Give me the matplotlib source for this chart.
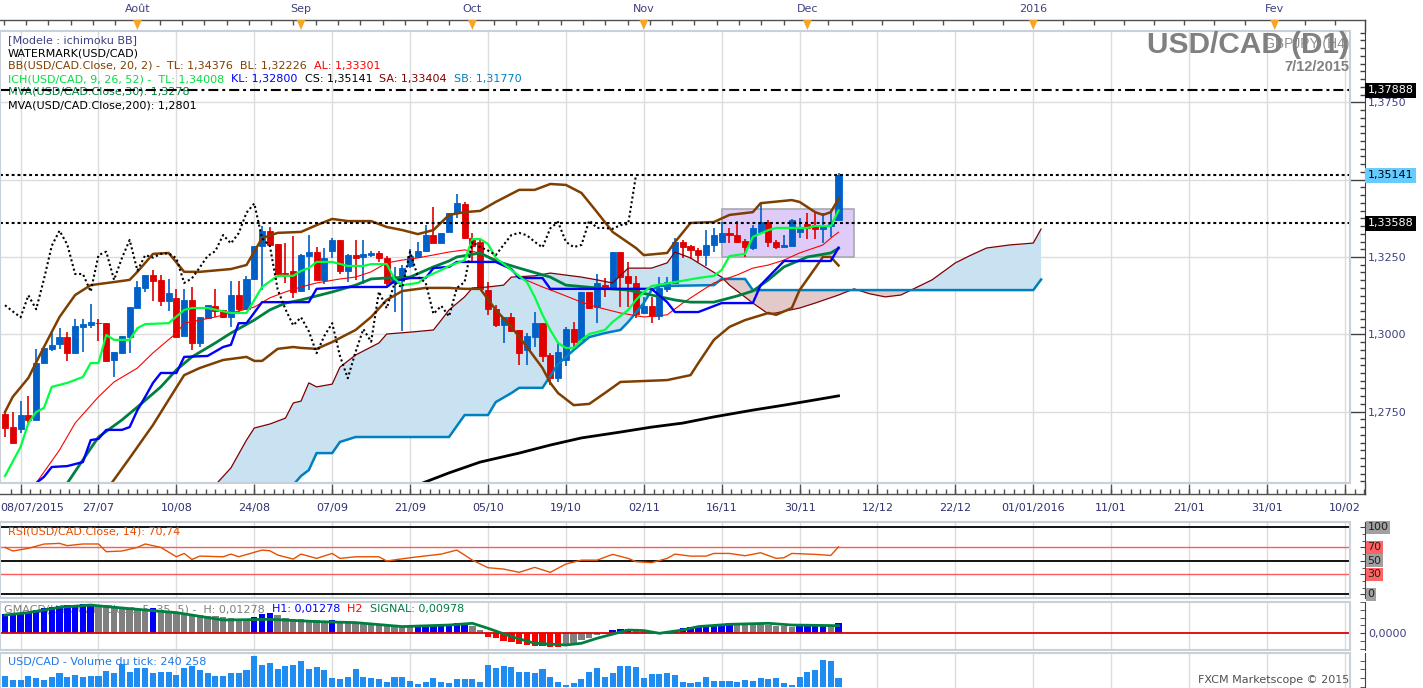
import numpy as np
import matplotlib
matplotlib.use("Agg")
import matplotlib.pyplot as plt
from matplotlib.patches import Rectangle, Polygon
from matplotlib.ticker import MultipleLocator
from matplotlib import transforms

# ---------------- data: USD/CAD daily, 9 Jul 2015 -> 7 Dec 2015 (bar 0..107) ----------------
opens = [1.2742, 1.2699, 1.2694, 1.2738, 1.2723, 1.2906, 1.2953, 1.2969, 1.2991, 1.2938,
         1.3025, 1.3031, 1.3038, 1.3038, 1.2917, 1.2940, 1.2992, 1.3085, 1.3150, 1.3193,
         1.3176, 1.3107, 1.3117, 1.2995, 1.3111, 1.2973, 1.3053, 1.3092, 1.3079, 1.3055,
         1.3126, 1.3081, 1.3178, 1.3286, 1.3333, 1.3292, 1.3199, 1.3205, 1.3140, 1.3253,
         1.3267, 1.3176, 1.3270, 1.3305, 1.3206, 1.3256, 1.3249, 1.3256, 1.3264, 1.3246,
         1.3165, 1.3182, 1.3221, 1.3250, 1.3269, 1.3321, 1.3295, 1.3332, 1.3392, 1.3421,
         1.3310, 1.3298, 1.3143, 1.3081, 1.3030, 1.3056, 1.3014, 1.2949, 1.2992, 1.3036,
         1.2933, 1.2859, 1.2917, 1.3017, 1.2982, 1.3138, 1.3089, 1.3159, 1.3150, 1.3267,
         1.3189, 1.3167, 1.3068, 1.3092, 1.3058, 1.3145, 1.3166, 1.3299, 1.3284, 1.3273,
         1.3255, 1.3289, 1.3299, 1.3328, 1.3321, 1.3302, 1.3279, 1.3332, 1.3363, 1.3300,
         1.3283, 1.3287, 1.3331, 1.3357, 1.3353, 1.3341, 1.3350, 1.3370]
highs = [1.2749, 1.2749, 1.2784, 1.2800, 1.2952, 1.2956, 1.3003, 1.3020, 1.3006, 1.3049,
         1.3049, 1.3098, 1.3050, 1.3038, 1.2943, 1.2995, 1.3087, 1.3173, 1.3193, 1.3208,
         1.3191, 1.3180, 1.3147, 1.3145, 1.3152, 1.3057, 1.3094, 1.3147, 1.3079, 1.3173,
         1.3173, 1.3189, 1.3286, 1.3350, 1.3346, 1.3292, 1.3294, 1.3319, 1.3260, 1.3321,
         1.3283, 1.3278, 1.3311, 1.3305, 1.3260, 1.3305, 1.3305, 1.3270, 1.3270, 1.3253,
         1.3218, 1.3224, 1.3276, 1.3299, 1.3353, 1.3413, 1.3327, 1.3393, 1.3454, 1.3428,
         1.3327, 1.3305, 1.3169, 1.3095, 1.3056, 1.3068, 1.3014, 1.3005, 1.3073, 1.3038,
         1.2940, 1.2976, 1.3024, 1.3041, 1.3138, 1.3138, 1.3195, 1.3181, 1.3267, 1.3267,
         1.3235, 1.3189, 1.3122, 1.3121, 1.3186, 1.3184, 1.3311, 1.3305, 1.3290, 1.3279,
         1.3337, 1.3345, 1.3364, 1.3343, 1.3366, 1.3307, 1.3353, 1.3425, 1.3371, 1.3305,
         1.3321, 1.3372, 1.3376, 1.3392, 1.3396, 1.3393, 1.3402, 1.3522]
lows = [1.2668, 1.2650, 1.2681, 1.2714, 1.2723, 1.2906, 1.2947, 1.2953, 1.2915, 1.2938,
        1.2943, 1.3019, 1.2979, 1.2910, 1.2861, 1.2940, 1.2940, 1.3085, 1.3137, 1.3109,
        1.3092, 1.3074, 1.2990, 1.2995, 1.2949, 1.2960, 1.3053, 1.3057, 1.3053, 1.3025,
        1.3072, 1.3081, 1.3176, 1.3143, 1.3290, 1.3184, 1.3167, 1.3116, 1.3137, 1.3143,
        1.3176, 1.3163, 1.3247, 1.3195, 1.3170, 1.3176, 1.3163, 1.3251, 1.3235, 1.3156,
        1.3073, 1.3012, 1.3214, 1.3247, 1.3266, 1.3294, 1.3295, 1.3332, 1.3376, 1.3308,
        1.3234, 1.3143, 1.3063, 1.3024, 1.2971, 1.3007, 1.2901, 1.2901, 1.2960, 1.2911,
        1.2836, 1.2847, 1.2898, 1.2960, 1.2982, 1.3082, 1.3038, 1.3122, 1.3150, 1.3089,
        1.3089, 1.3053, 1.3066, 1.3038, 1.3046, 1.3138, 1.3166, 1.3246, 1.3243, 1.3234,
        1.3221, 1.3267, 1.3298, 1.3294, 1.3295, 1.3249, 1.3273, 1.3331, 1.3282, 1.3276,
        1.3283, 1.3285, 1.3311, 1.3308, 1.3308, 1.3295, 1.3315, 1.3370]
closes = [1.2697, 1.2650, 1.2738, 1.2723, 1.2906, 1.2956, 1.2965, 1.2991, 1.2940, 1.3027,
          1.3033, 1.3040, 1.3036, 1.2915, 1.2943, 1.2995, 1.3087, 1.3152, 1.3193, 1.3173,
          1.3107, 1.3133, 1.2992, 1.3111, 1.2973, 1.3057, 1.3094, 1.3074, 1.3055, 1.3126,
          1.3081, 1.3178, 1.3286, 1.3335, 1.3290, 1.3195, 1.3195, 1.3138, 1.3256, 1.3267,
          1.3176, 1.3246, 1.3305, 1.3206, 1.3256, 1.3248, 1.3260, 1.3262, 1.3246, 1.3166,
          1.3181, 1.3216, 1.3253, 1.3269, 1.3321, 1.3294, 1.3327, 1.3393, 1.3423, 1.3310,
          1.3286, 1.3145, 1.3081, 1.3029, 1.3055, 1.3010, 1.2939, 1.2995, 1.3036, 1.2930,
          1.2858, 1.2943, 1.3017, 1.2976, 1.3138, 1.3084, 1.3165, 1.3152, 1.3267, 1.3186,
          1.3167, 1.3066, 1.3092, 1.3058, 1.3150, 1.3169, 1.3299, 1.3282, 1.3271, 1.3256,
          1.3289, 1.3321, 1.3328, 1.3320, 1.3299, 1.3281, 1.3343, 1.3363, 1.3299, 1.3282,
          1.3289, 1.3368, 1.3344, 1.3344, 1.3341, 1.3353, 1.3357, 1.35141]

volumes = [310000, 194000, 194000, 310000, 240000, 194000, 269000, 405000, 290000, 339000,
           290000, 310000, 310000, 463000, 405000, 657000, 434000, 530000, 530000, 405000,
           434000, 434000, 339000, 530000, 599000, 483000, 405000, 310000, 310000, 405000,
           385000, 483000, 889000, 628000, 675000, 501000, 599000, 628000, 753000, 501000,
           579000, 483000, 240000, 211000, 290000, 501000, 290000, 240000, 211000, 145000,
           290000, 290000, 174000, 78000, 145000, 240000, 145000, 96000, 232000, 232000,
           232000, 145000, 628000, 530000, 599000, 579000, 434000, 434000, 385000, 501000,
           290000, 145000, 49000, 116000, 211000, 434000, 530000, 290000, 405000, 599000,
           599000, 579000, 240000, 368000, 368000, 385000, 339000, 145000, 116000, 145000,
           269000, 174000, 165000, 165000, 145000, 194000, 174000, 240000, 223000, 240000,
           96000, 49000, 290000, 434000, 483000, 773000, 753000, 240258]

macd_hist = [0.0243, 0.0243, 0.0250, 0.0278, 0.0298, 0.0320, 0.0342, 0.0349, 0.0362, 0.0367,
             0.0371, 0.0375, 0.0367, 0.0358, 0.0349, 0.0337, 0.0324, 0.0316, 0.0307, 0.0324,
             0.0298, 0.0291, 0.0278, 0.0265, 0.0252, 0.0239, 0.0227, 0.0218, 0.0209, 0.0196,
             0.0188, 0.0179, 0.0213, 0.0245, 0.0256, 0.0230, 0.0192, 0.0186, 0.0179, 0.0173,
             0.0166, 0.0162, 0.0170, 0.0150, 0.0143, 0.0137, 0.0130, 0.0122, 0.0115, 0.0107,
             0.0100, 0.0093, 0.0086, 0.0093, 0.0100, 0.0107, 0.0115, 0.0122, 0.0130, 0.0137,
             0.0090, 0.0038, -0.0042, -0.0064, -0.0093, -0.0115, -0.0137, -0.0145, -0.0157, -0.0166,
             -0.0170, -0.0170, -0.0157, -0.0128, -0.0090, -0.0055, -0.0026, -0.0009, 0.0038, 0.0051,
             0.0055, 0.0047, 0.0038, 0.0029, 0.0022, 0.0017, 0.0042, 0.0064, 0.0081, 0.0090,
             0.0099, 0.0111, 0.0124, 0.0132, 0.0128, 0.0124, 0.0119, 0.0115, 0.0106, 0.0099,
             0.0093, 0.0086, 0.0090, 0.0096, 0.0102, 0.0106, 0.0099, 0.01278]
macd_signal = [(0, 0.0234), (3, 0.0265), (7, 0.0333), (11, 0.0362), (13, 0.0342), (17, 0.0307),
               (22, 0.0265), (28, 0.0170), (34, 0.0179), (40, 0.0150), (45, 0.0137), (51, 0.0086),
               (57, 0.0106), (60, 0.0128), (62, 0.0064), (65, -0.0042), (68, -0.0128), (72, -0.0150),
               (74, -0.0128), (76, -0.0064), (80, 0.0042), (82, 0.0035), (84, 0.0), (87, 0.0042),
               (89, 0.0086), (93, 0.0115), (98, 0.0128), (101, 0.0106), (107, 0.00978)]

rsi = [(0, 70), (1, 64.6), (3, 68.6), (5, 75), (7, 76), (8, 72.6), (10, 75.1), (12, 75.1), (13, 63.6),
       (15, 64.6), (17, 70), (18, 75.1), (20, 70), (22, 56), (23, 61), (24, 52), (25, 57), (28, 56),
       (29, 60), (30, 56), (33, 66), (34, 65), (35, 58.6), (37, 52.6), (38, 60), (40, 53.6), (42, 61),
       (43, 53.6), (45, 56), (48, 56), (49, 49.7), (51, 53), (53, 56), (56, 60), (58, 66), (60, 51),
       (62, 39.7), (64, 37.7), (66, 32.8), (68, 40.2), (70, 32.8), (72, 45.2), (74, 51), (76, 51),
       (78, 59.6), (80, 53.6), (81, 48.7), (83, 47.2), (85, 53.6), (86, 60), (88, 57), (90, 57),
       (91, 61), (93, 61), (95, 57.6), (97, 62), (99, 53.6), (100, 54.6), (101, 61), (104, 59.6),
       (106, 58), (107, 70.74)]

bb_upper = [(0, 1.2749), (1, 1.2798), (3, 1.2859), (5, 1.2959), (7, 1.3056), (9, 1.3127), (11, 1.3159),
            (14, 1.3169), (16, 1.3176), (17, 1.3202), (19, 1.3260), (21, 1.3263), (23, 1.3202), (25, 1.3202),
            (29, 1.3211), (31, 1.3224), (33, 1.3311), (35, 1.3328), (38, 1.3331), (40, 1.3353), (42, 1.3373),
            (44, 1.3366), (47, 1.3366), (49, 1.3347), (51, 1.3337), (53, 1.3324), (55, 1.3337), (57, 1.3386),
            (59, 1.3395), (61, 1.3399), (63, 1.3428), (66, 1.3467), (68, 1.3467), (70, 1.3486), (72, 1.3483),
            (74, 1.3457), (76, 1.3395), (78, 1.3331), (81, 1.3279), (82, 1.3256), (85, 1.3263), (86, 1.3298),
            (88, 1.3360), (91, 1.3363), (93, 1.3386), (96, 1.3395), (97, 1.3424), (101, 1.3434), (102, 1.3428),
            (104, 1.3395), (105, 1.3386), (106, 1.3395), (107, 1.34376)]
bb_lower = [(13, 1.2495), (16, 1.2600), (19, 1.2707), (21, 1.2788), (23, 1.2868), (25, 1.2891), (28, 1.2917),
            (31, 1.2927), (32, 1.2914), (33, 1.2914), (35, 1.2953), (37, 1.2959), (38, 1.2956), (40, 1.2953),
            (42, 1.2975), (45, 1.3014), (47, 1.3056), (49, 1.3111), (51, 1.3140), (54, 1.3150), (57, 1.3150),
            (59, 1.3147), (61, 1.3147), (63, 1.3079), (65, 1.3024), (67, 1.2959), (69, 1.2891), (70, 1.2843),
            (71, 1.2810), (73, 1.2771), (75, 1.2775), (77, 1.2810), (79, 1.2846), (85, 1.2852), (88, 1.2868),
            (89, 1.2907), (91, 1.2982), (93, 1.3024), (95, 1.3046), (98, 1.3069), (99, 1.3063), (101, 1.3085),
            (102, 1.3143), (104, 1.3214), (105, 1.3250), (106, 1.3250), (107, 1.32226)]
bb_mid = [(4, 1.2519), (7, 1.2626), (9, 1.2713), (12, 1.2798), (14, 1.2846), (17, 1.2891), (19, 1.2940),
          (22, 1.3004), (23, 1.3036), (25, 1.3046), (27, 1.3056), (29, 1.3069), (32, 1.3088), (34, 1.3118),
          (36, 1.3137), (38, 1.3153), (40, 1.3166), (43, 1.3179), (45, 1.3185), (47, 1.3202), (49, 1.3231),
          (51, 1.3240), (53, 1.3247), (57, 1.3266), (59, 1.3273), (61, 1.3263), (64, 1.3231), (66, 1.3185),
          (69, 1.3153), (71, 1.3134), (74, 1.3104), (76, 1.3088), (79, 1.3069), (82, 1.3056), (85, 1.3063),
          (87, 1.3101), (89, 1.3134), (91, 1.3166), (94, 1.3192), (96, 1.3214), (98, 1.3224), (100, 1.3240),
          (102, 1.3263), (105, 1.3289), (106, 1.3311), (107, 1.33301)]

tenkan = [(0, 1.2542), (2, 1.2636), (3, 1.2713), (4, 1.2749), (5, 1.2762), (6, 1.2830), (8, 1.2843),
          (10, 1.2862), (11, 1.2907), (12, 1.2907), (13, 1.2998), (14, 1.2982), (16, 1.2982), (17, 1.3020),
          (18, 1.3033), (21, 1.3036), (23, 1.3079), (24, 1.3085), (26, 1.3085), (29, 1.3069), (31, 1.3069),
          (33, 1.3153), (35, 1.3189), (37, 1.3189), (38, 1.3205), (39, 1.3214), (40, 1.3234), (42, 1.3234),
          (44, 1.3221), (46, 1.3221), (47, 1.3227), (49, 1.3227), (50, 1.3179), (51, 1.3159), (53, 1.3166),
          (54, 1.3185), (56, 1.3208), (57, 1.3221), (59, 1.3240), (60, 1.3308), (61, 1.3308), (62, 1.3292),
          (63, 1.3247), (65, 1.3208), (67, 1.3169), (68, 1.3121), (69, 1.3063), (70, 1.3014), (71, 1.2972),
          (72, 1.2956), (73, 1.2956), (74, 1.2982), (75, 1.3001), (77, 1.3014), (78, 1.3040), (80, 1.3079),
          (81, 1.3111), (82, 1.3137), (83, 1.3156), (86, 1.3169), (89, 1.3182), (91, 1.3189), (92, 1.3208),
          (93, 1.3253), (95, 1.3260), (96, 1.3315), (98, 1.3337), (99, 1.3344), (103, 1.3344), (104, 1.3350),
          (106, 1.3350), (107, 1.34008)]
kijun = [(4, 1.2519), (5, 1.2539), (6, 1.2571), (8, 1.2574), (10, 1.2587), (11, 1.2658), (12, 1.2662),
         (13, 1.2691), (15, 1.2691), (16, 1.2700), (17, 1.2755), (18, 1.2798), (19, 1.2843), (20, 1.2875),
         (22, 1.2875), (23, 1.2927), (26, 1.2930), (28, 1.2959), (29, 1.2966), (30, 1.3036), (31, 1.3036),
         (33, 1.3104), (39, 1.3104), (40, 1.3147), (44, 1.3153), (49, 1.3153), (50, 1.3172), (52, 1.3182),
         (54, 1.3182), (55, 1.3214), (57, 1.3218), (58, 1.3234), (63, 1.3234), (65, 1.3211), (66, 1.3182),
         (69, 1.3182), (70, 1.3147), (83, 1.3147), (85, 1.3104), (86, 1.3072), (89, 1.3072), (92, 1.3101),
         (96, 1.3101), (97, 1.3159), (98, 1.3185), (100, 1.3237), (106, 1.3237), (107, 1.32800)]
senkou_a = [(27, 1.2513), (29, 1.2568), (31, 1.2658), (32, 1.2697), (34, 1.2710), (36, 1.2729), (37, 1.2778),
            (38, 1.2784), (39, 1.2843), (40, 1.2830), (42, 1.2839), (43, 1.2894), (45, 1.2933), (47, 1.2959),
            (48, 1.2972), (49, 1.3001), (52, 1.3007), (55, 1.3014), (56, 1.3046), (57, 1.3079), (59, 1.3121),
            (60, 1.3150), (62, 1.3153), (64, 1.3159), (65, 1.3185), (68, 1.3189), (70, 1.3198), (74, 1.3185),
            (76, 1.3176), (78, 1.3166), (80, 1.3214), (83, 1.3214), (85, 1.3231), (86, 1.3266), (88, 1.3247),
            (89, 1.3231), (92, 1.3185), (93, 1.3159), (96, 1.3101), (98, 1.3066), (99, 1.3069), (102, 1.3085),
            (104, 1.3101), (107, 1.3127), (109, 1.3147), (111, 1.3131), (113, 1.3121), (115, 1.3127),
            (119, 1.3176), (122, 1.3231), (124, 1.3256), (126, 1.3279), (129, 1.3289), (132, 1.3295),
            (133, 1.33404)]
senkou_b = [(37, 1.2513), (38, 1.2542), (39, 1.2561), (40, 1.2616), (42, 1.2616), (43, 1.2652), (45, 1.2668),
            (57, 1.2668), (59, 1.2739), (62, 1.2739), (63, 1.2781), (65, 1.2810), (66, 1.2827), (69, 1.2827),
            (71, 1.2904), (73, 1.2949), (75, 1.2991), (77, 1.3004), (79, 1.3014), (80, 1.3040), (82, 1.3101),
            (83, 1.3143), (84, 1.3156), (91, 1.3159), (92, 1.3179), (95, 1.3179), (96, 1.3143), (132, 1.3143),
            (133, 1.31770)]
mva30 = [(8, 1.2519), (10, 1.2594), (12, 1.2668), (15, 1.2723), (17, 1.2765), (20, 1.2830), (22, 1.2885),
         (24, 1.2927), (27, 1.2972), (29, 1.3004), (32, 1.3046), (34, 1.3079), (36, 1.3101), (38, 1.3111),
         (40, 1.3124), (42, 1.3137), (45, 1.3159), (47, 1.3179), (49, 1.3182), (52, 1.3185), (55, 1.3218),
         (57, 1.3237), (58, 1.3250), (61, 1.3263), (63, 1.3237), (66, 1.3214), (70, 1.3185), (72, 1.3159),
         (76, 1.3150), (80, 1.3143), (83, 1.3127), (86, 1.3111), (88, 1.3104), (91, 1.3104), (94, 1.3124),
         (96, 1.3140), (98, 1.3176), (100, 1.3218), (103, 1.3250), (106, 1.3263), (107, 1.3278)]
mva200 = [(53, 1.2513), (54, 1.2523), (57, 1.2552), (61, 1.2587), (66, 1.2616), (70, 1.2642), (74, 1.2665),
          (79, 1.2684), (83, 1.2700), (87, 1.2713), (91, 1.2733), (96, 1.2755), (100, 1.2771), (104, 1.2788),
          (107, 1.2801)]

level_dashdot = 1.37888
level_dotted = [1.35141, 1.33588]
range_box = (92.1, 109.0, 1.3249, 1.3404)     # bar from, bar to, low, high

date_pos = list(range(2, 173, 10))
date_labels = ["08/07/2015", "27/07", "10/08", "24/08", "07/09", "21/09", "05/10", "19/10", "02/11",
               "16/11", "30/11", "12/12", "22/12", "01/01/2016", "11/01", "21/01", "31/01", "10/02"]
month_pos = [17, 38, 60, 82, 103, 132, 163]
month_labels = ["Août", "Sep", "Oct", "Nov", "Dec", "2016", "Fev"]

# ---------------- layout ----------------
W, H = 1423, 688
BAR_PX, X0_PX = 7.79, 5.0
PLOT_R, AXIS_R = 1350, 1365
XL = ((0 - X0_PX) / BAR_PX, (PLOT_R - X0_PX) / BAR_PX)
X_AXISLINE = (AXIS_R - X0_PX) / BAR_PX
FRAME = "#C8D0DA"
GRID = "#DCDCDC"
AXC = "#404040"
TXT = "#404080"
UP, DN = "#0060C8", "#E00000"
FS = 8

fig = plt.figure(figsize=(W / 100, H / 100), dpi=100)


def panel(top, bottom):
    a = fig.add_axes([0, 1 - bottom / H, PLOT_R / W, (bottom - top) / H])
    a.set_xlim(*XL)
    a.set_xticks([])
    for s in ("left", "top", "bottom"):
        a.spines[s].set_visible(False)
    a.spines["right"].set_position(("outward", 10.8))
    a.spines["right"].set_color(AXC)
    a.yaxis.tick_right()
    a.add_patch(Rectangle((0, 0), 1, 1, transform=a.transAxes, fill=False,
                          ec=FRAME, lw=1.5, zorder=8, clip_on=False))
    for p in date_pos:
        a.axvline(p, color=GRID, lw=1, zorder=0)
    return a


def xy(pairs):
    return [p[0] for p in pairs], [p[1] for p in pairs]


def rainbow(a, x, y, parts, transform):
    t = a.text(x, y, parts[0][0], color=parts[0][1], fontsize=FS, va="bottom",
               transform=transform, zorder=1)
    for s, c in parts[1:]:
        t = a.annotate(s, xy=(1, 0), xycoords=t, va="bottom", color=c,
                       fontsize=FS, zorder=1, annotation_clip=False)


# ---- main price panel ----
ax = panel(31, 483)
ax.set_ylim(1.25193, 1.39806)
for lv in [1.275, 1.3, 1.325, 1.35, 1.375]:
    ax.axhline(lv, color=GRID, lw=1, zorder=0)
ax.set_yticks([1.275, 1.3, 1.325, 1.35, 1.375])
ax.set_yticklabels(["1,2750", "1,3000", "1,3250", "", "1,3750"])
ax.yaxis.set_minor_locator(MultipleLocator(0.0025))
ax.tick_params(axis="y", which="major", direction="in", length=10.8, width=1,
               colors=AXC, labelcolor=TXT, labelsize=FS, pad=2)
ax.tick_params(axis="y", which="minor", direction="in", length=3.6, width=1, colors=AXC)

# ichimoku cloud
sa_x, sa_v = xy(senkou_a)
sb_x, sb_v = xy(senkou_b)
gx = np.linspace(sa_x[0], sa_x[-1], 1200)
ga = np.interp(gx, sa_x, sa_v)
gb = np.interp(gx, sb_x, sb_v, left=1.24)
ax.fill_between(gx, ga, gb, where=ga >= gb, interpolate=True, color="#C9E2F2", lw=0, zorder=1)
ax.fill_between(gx, ga, gb, where=ga < gb, interpolate=True, color="#E3C9C9", lw=0, zorder=1)

# range box
b0, b1, blo, bhi = range_box
ax.add_patch(Rectangle((b0, blo), b1 - b0, bhi - blo, fc="#DFCBF7", ec="#A8A8B0", lw=1.2, zorder=1.5))

# candles
o, h, l, c = map(np.array, (opens, highs, lows, closes))
idx = np.arange(len(c))
col = np.where(c >= o, UP, DN)
ax.vlines(idx, l, h, colors=col, lw=1.2, zorder=3)
ax.bar(idx, np.abs(c - o), bottom=np.minimum(o, c), width=0.78, color=col,
       edgecolor=col, lw=0.6, zorder=3.1)

# indicator lines
ax.plot(*xy(mva200), color="black", lw=2.0, zorder=4)
ax.plot(sa_x, sa_v, color="#800000", lw=0.9, zorder=4)
ax.plot(sb_x, sb_v, color="#0080C0", lw=1.8, zorder=4)
ax.plot(*xy(bb_mid), color="#FF0000", lw=0.8, zorder=4)
ax.plot(*xy(bb_upper), color="#7F3F00", lw=1.8, zorder=4)
ax.plot(*xy(bb_lower), color="#7F3F00", lw=1.8, zorder=4)
ax.plot(*xy(mva30), color="#008040", lw=2.0, zorder=4.1)
ax.plot(*xy(kijun), color="#0000FF", lw=1.7, zorder=4.2)
ax.plot(*xy(tenkan), color="#00FF40", lw=1.6, zorder=4.3)
ax.plot(idx[26:] - 26, c[26:], color="black", lw=1.5, ls=(0, (1, 1.3)), zorder=4.4)   # chikou span

ax.axhline(level_dashdot, color="black", lw=1.5, ls=(0, (4.8, 1.9, 1.4, 1.9)), zorder=4.5)
for lv in level_dotted:
    ax.axhline(lv, color="black", lw=1.5, ls=(0, (1.4, 1.4)), zorder=4.5)

lab_tr = transforms.blended_transform_factory(ax.transAxes, ax.transData)
xlab = (AXIS_R + 2.5) / PLOT_R
for lv, fc, tc in [(1.37888, "black", "white"), (1.35141, "#66CCFF", "black"), (1.33588, "black", "white")]:
    ax.text(xlab, lv, f"{lv:.5f}".replace(".", ","), transform=lab_tr, fontsize=FS, color=tc,
            va="center", ha="left", clip_on=False, zorder=10,
            bbox=dict(boxstyle="square,pad=0.22", fc=fc, ec="none"))

# legend lines (top-left)
ft = fig.transFigure
lx = 8 / W
rainbow(ax, lx, 1 - 45 / H, [("[Modele : ichimoku BB]", TXT)], ft)
rainbow(ax, lx, 1 - 58 / H, [("WATERMARK(USD/CAD)", "black")], ft)
rainbow(ax, lx, 1 - 71 / H, [("BB(USD/CAD.Close, 20, 2) -  TL: 1,34376  BL: 1,32226  ", "#804000"),
                              ("AL: 1,33301", "#FF0000")], ft)
rainbow(ax, lx, 1 - 84 / H, [("ICH(USD/CAD, 9, 26, 52) -  TL: 1,34008  ", "#00E040"),
                              ("KL: 1,32800  ", "#0000FF"), ("CS: 1,35141  ", "black"),
                              ("SA: 1,33404  ", "#800000"), ("SB: 1,31770", "#0080C0")], ft)
rainbow(ax, lx, 1 - 97 / H, [("MVA(USD/CAD.Close,30): 1,3278", "#008040")], ft)
rainbow(ax, lx, 1 - 110 / H, [("MVA(USD/CAD.Close,200): 1,2801", "black")], ft)

fig.text(1349 / W, 1 - 44 / H, "GBPJPY (H4)", ha="right", va="center", fontsize=10,
         color="#909090", family="Liberation Sans")
fig.text(1349 / W, 1 - 45 / H, "USD/CAD (D1)", ha="right", va="center", fontsize=21.5,
         fontweight="bold", color="#808080", family="Liberation Sans")
fig.text(1349 / W, 1 - 67 / H, "7/12/2015", ha="right", va="center", fontsize=10.5,
         fontweight="bold", color="#808080", family="Liberation Sans")

# ---- top month ruler ----
ax_top = fig.add_axes([0, 1 - 31 / H, PLOT_R / W, 31 / H])
ax_top.set_xlim(*XL)
ax_top.set_ylim(31, 0)
ax_top.axis("off")
ax_top.plot([XL[0], X_AXISLINE], [19.5, 19.5], color="#505050", lw=1, clip_on=False)
ax_top.plot([X_AXISLINE, X_AXISLINE], [19.5, 31], color=AXC, lw=1, clip_on=False)
top_ticks = np.concatenate([np.arange(-0.16, 108, 2.86), np.arange(132 - 3.875 * 6, 175, 3.875)])
ax_top.vlines(top_ticks[top_ticks <= X_AXISLINE], 19.5, 24.5, color="#505050", lw=1, clip_on=False)
for m, lbl in zip(month_pos, month_labels):
    ax_top.add_patch(Polygon([(m - 0.55, 20), (m + 0.55, 20), (m, 30)], closed=True,
                             fc="#F5A623", ec="none", zorder=3))
    ax_top.text(m, 9, lbl, ha="center", va="center", color=TXT, fontsize=FS)

# ---- date ruler ----
ax_xr = fig.add_axes([0, 1 - 522 / H, PLOT_R / W, 39 / H])
ax_xr.set_xlim(*XL)
ax_xr.set_ylim(522, 483)
ax_xr.axis("off")
ax_xr.plot([XL[0], X_AXISLINE], [494, 494], color="#505050", lw=1, clip_on=False)
ax_xr.plot([X_AXISLINE, X_AXISLINE], [483, 494], color=AXC, lw=1, clip_on=False)
minor = np.arange(2 - 1.25, X_AXISLINE, 1.25)
ax_xr.vlines(minor, 489.5, 494, color="#505050", lw=1, clip_on=False)
ax_xr.vlines(date_pos, 484, 494, color="#505050", lw=1, clip_on=False)
for p, t in zip(date_pos, date_labels):
    if p == date_pos[0]:
        ax_xr.text(XL[0] + 0.05, 508, t, ha="left", va="center", color="#303070", fontsize=FS)
    else:
        ax_xr.text(p, 508, t, ha="center", va="center", color="#303070", fontsize=FS)

# ---- RSI ----
ax_rsi = panel(522, 598)
ax_rsi.set_ylim(-5.5, 107.9)
for lv, cl, lw in [(100, "black", 1.3), (70, "#FF5A5A", 1.0), (50, "black", 1.3),
                   (30, "#FF5A5A", 1.0), (0, "black", 1.3)]:
    ax_rsi.axhline(lv, color=cl, lw=lw, zorder=1)
ax_rsi.plot(*xy(rsi), color="#E65000", lw=1.0, zorder=3)
ax_rsi.set_yticks([0, 30, 50, 70, 100])
ax_rsi.set_yticklabels([])
ax_rsi.yaxis.set_minor_locator(MultipleLocator(10))
ax_rsi.tick_params(axis="y", which="major", direction="in", length=3.6, colors=AXC)
ax_rsi.tick_params(axis="y", which="minor", direction="in", length=2, colors=AXC)
rsi_tr = transforms.blended_transform_factory(ax_rsi.transAxes, ax_rsi.transData)
for lv, fc in [(100, "#A0A0A0"), (70, "#FF6464"), (50, "#A0A0A0"), (30, "#FF6464"), (0, "#A0A0A0")]:
    ax_rsi.text(xlab, lv, str(lv), transform=rsi_tr, fontsize=FS, color="#202020", va="center",
                ha="left", clip_on=False, zorder=10,
                bbox=dict(boxstyle="square,pad=0.12", fc=fc, ec="none"))
ax_rsi.text(8 / PLOT_R, 1 - 10 / 76, "RSI(USD/CAD.Close, 14): 70,74", transform=ax_rsi.transAxes,
            color="#E65000", fontsize=FS, va="center", zorder=2)

# ---- MACD ----
ax_macd = panel(602, 650)
ax_macd.set_ylim(-0.0214, 0.0401)
hist = np.array(macd_hist)
prev = np.concatenate([[hist[0]], hist[:-1]])
hcol = np.where(hist >= 0, np.where(hist >= prev, "#0000FF", "#808080"),
                np.where(hist <= prev, "#FF0000", "#808080"))
rainbow(ax_macd, 4 / W, 1 - 614 / H, [("GMACD(USD/CAD.Close, 5, 35, 5) -  H: 0,01278  ", "#808080"),
                                       ("H1: 0,01278  ", "#0000FF"), ("H2  ", "#FF0000"),
                                       ("SIGNAL: 0,00978", "#008040")], ft)
ax_macd.bar(idx, hist, width=0.82, color=hcol, zorder=3)
ax_macd.axhline(0, color="#E00000", lw=1.3, zorder=3.5)
ax_macd.plot(*xy(macd_signal), color="#008040", lw=2.0, zorder=4)
ax_macd.set_yticks([0])
ax_macd.set_yticklabels(["0,0000"])
ax_macd.yaxis.set_minor_locator(MultipleLocator(0.01))
ax_macd.tick_params(axis="y", which="major", direction="in", length=3.6, colors=AXC,
                    labelcolor=TXT, labelsize=FS, pad=2)
ax_macd.tick_params(axis="y", which="minor", direction="in", length=3.6, colors=AXC)

# ---- tick volume ----
ax_vol = panel(653, 690)
ax_vol.set_ylim(-95535, 975600)
ax_vol.bar(idx, volumes, width=0.78, color="#1E8CF0", zorder=3)
ax_vol.set_yticks([])
ax_vol.yaxis.set_minor_locator(MultipleLocator(250000))
ax_vol.tick_params(axis="y", which="minor", direction="in", length=3.6, colors=AXC)
ax_vol.text(8 / PLOT_R, 1 - 9 / 37, "USD/CAD - Volume du tick: 240 258", transform=ax_vol.transAxes,
            color="#1E78E6", fontsize=FS, va="center", zorder=2)
ax_vol.text(1349 / PLOT_R, 1 - 27 / 37, "FXCM Marketscope © 2015", transform=ax_vol.transAxes,
            color="#505050", fontsize=FS, va="center", ha="right", zorder=5)

fig.savefig("out.png", dpi=100)
